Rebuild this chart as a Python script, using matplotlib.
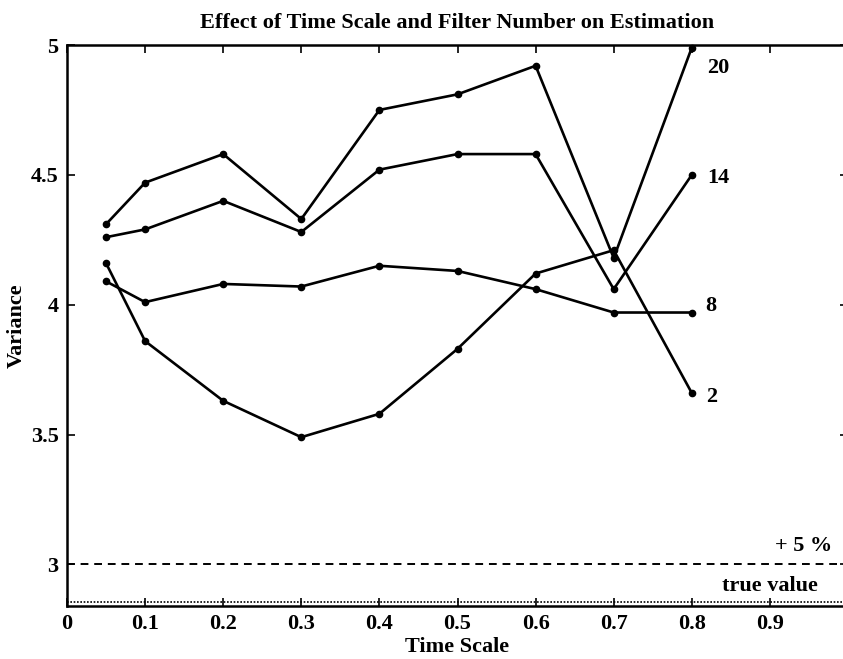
import matplotlib
matplotlib.use("Agg")
import matplotlib.pyplot as plt

plt.rcParams['font.family'] = ['Liberation Serif', 'DejaVu Serif']
plt.rcParams['font.weight'] = 'bold'

time_scale = [0.05, 0.1, 0.2, 0.3, 0.4, 0.5, 0.6, 0.7, 0.8]
filter_labels = ["20", "14", "8", "2"]
var_20 = [4.31, 4.47, 4.58, 4.33, 4.75, 4.81, 4.92, 4.18, 4.99]
var_14 = [4.26, 4.29, 4.40, 4.28, 4.52, 4.58, 4.58, 4.06, 4.50]
var_8 = [4.09, 4.01, 4.08, 4.07, 4.15, 4.13, 4.06, 3.97, 3.97]
var_2 = [4.16, 3.86, 3.63, 3.49, 3.58, 3.83, 4.12, 4.21, 3.66]
series = [var_20, var_14, var_8, var_2]

true_value = 3.0 / 1.05
plus5 = 3.0

label_offsets = [(11, -15), (11, -2), (10, 5), (10, -3)]

fig = plt.figure(figsize=(8.43, 6.59), dpi=100)
ax = fig.add_axes([67 / 843, 1 - 606 / 659, 781 / 843, (606 - 45) / 659])

for vals, lab, off in zip(series, filter_labels, label_offsets):
    ax.plot(time_scale, vals, color='black', lw=1.9, marker='o', ms=4.5,
            markerfacecolor='black', markeredgecolor='black', clip_on=False)
    ax.annotate(lab, xy=(time_scale[-1], vals[-1]), xytext=off,
                textcoords='offset points', fontsize=16, fontweight='bold',
                ha='left', va='center')

ax.axhline(plus5, color='black', lw=1.4, ls=(0, (4, 3)))
ax.axhline(true_value, color='black', lw=1.2, ls=(0, (1, 1)))
ax.text(0.98, plus5 + 0.07, '+ 5 %', fontsize=16, fontweight='bold', ha='right', va='center')
ax.text(0.9, true_value + 0.06, 'true value', fontsize=16, fontweight='bold', ha='center', va='center')

ax.set_xlim(0, 1)
ax.set_ylim(2.84, 5)
ax.set_xticks([0, 0.1, 0.2, 0.3, 0.4, 0.5, 0.6, 0.7, 0.8, 0.9])
ax.set_xticklabels(['0', '0.1', '0.2', '0.3', '0.4', '0.5', '0.6', '0.7', '0.8', '0.9'])
ax.set_yticks([3, 3.5, 4, 4.5, 5])
ax.set_yticklabels(['3', '3.5', '4', '4.5', '5'])
ax.tick_params(direction='in', length=6, width=1.2, top=True, right=True,
               labelsize=16, pad=6)
for lbl in ax.get_xticklabels() + ax.get_yticklabels():
    lbl.set_fontweight('bold')
for sp in ax.spines.values():
    sp.set_linewidth(1.8)

ax.set_xlabel('Time Scale', fontsize=16, fontweight='bold', labelpad=2)
ax.set_ylabel('Variance', fontsize=16, fontweight='bold', labelpad=3)
ax.set_title('Effect of Time Scale and Filter Number on Estimation',
             fontsize=16, fontweight='bold', pad=12)

fig.savefig('out.png', dpi=100)
